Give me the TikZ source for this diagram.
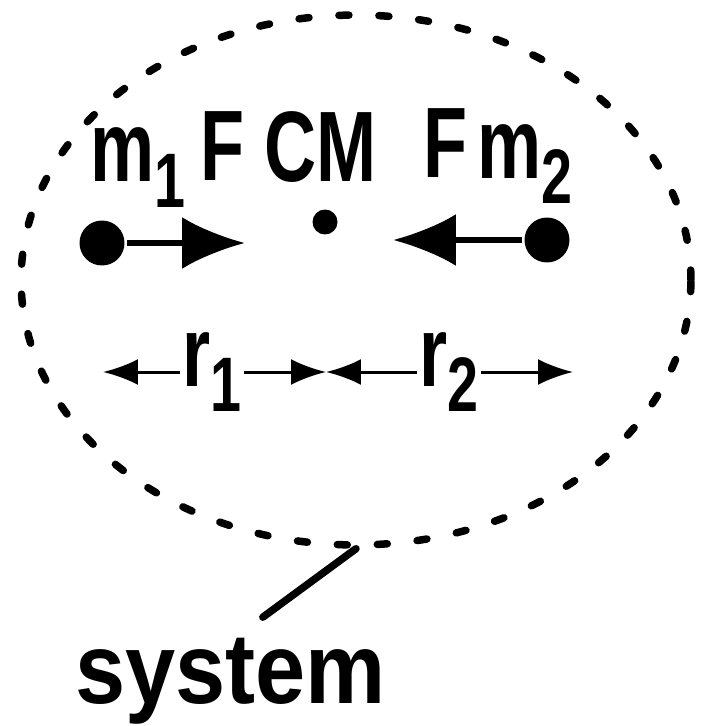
\documentclass[tikz,border=0pt]{standalone}
\usepackage{fontspec}
\setmainfont{Liberation Sans}
\usepackage{graphicx}
\usetikzlibrary{arrows.meta,shapes.geometric,calc}
\tikzset{
  every picture/.style={line width=0.1cm},
  lbl/.style={inner sep=0pt, font=\fontsize{57}{60}\selectfont\bfseries},
  mass/.style={circle, fill=black, inner sep=0pt, minimum size=#1},
  mass/.default=0.9cm,
  force/.style={-{Latex[length=1.26cm, width=1.04cm]}, line width=0.12cm},
  dimline/.style={-{Latex[length=0.7cm, width=0.52cm]}, line width=0.06cm},
  boundary/.style={draw, ellipse, dash pattern=on 0.2cm off 0.6cm, line width=0.15cm,
    line cap=round, inner sep=0pt, minimum width=13.4cm, minimum height=10.6cm},
  leader/.style={line width=0.15cm, line cap=round},
}
\newcommand{\squeeze}[1]{\scalebox{0.72}[1]{#1}}
\newcommand{\lowsub}[1]{\raisebox{-0.25em}{\fontsize{44}{44}\selectfont #1}}

\begin{document}
\begin{tikzpicture}[x=0.02cm, y=-0.02cm]
  \useasboundingbox (0,0) rectangle (701,726);
  \node[boundary] (sys) at (356,280) {};

  % labels over the masses
  \node[lbl, anchor=base west] (m1) at (88,182) {\squeeze{m\lowsub{1}}};
  \node[lbl, anchor=base] (f1) at (223,180) {\squeeze{F}};
  \node[lbl, anchor=base] (cm) at (321,182) {\squeeze{CM}};
  \node[lbl, anchor=base] (f2) at (446,177) {\squeeze{F}};
  \node[lbl, anchor=base west] (m2) at (475,178) {\squeeze{m\lowsub{2}}};

  % masses and forces
  \node[mass] (lm) at (102,243) {};
  \node[mass] (rm) at (547,240) {};
  \node[mass=0.5cm] (c) at (325,222) {};
  \coordinate (lf) at (245,243);
  \coordinate (rf) at (393,240);
  \draw[force] (lm) -- (lf);
  \draw[force] (rm) -- (rf);

  % distances to CM
  \coordinate (dl) at (103,372);
  \coordinate (dc) at (326,372);
  \coordinate (dr) at (573,372);
  \node[lbl] (r1) at (212,372) {\squeeze{r\lowsub{1}}};
  \node[lbl] (r2) at (449,372) {\squeeze{r\lowsub{2}}};
  \draw[dimline] (r1) -- (dl);
  \draw[dimline] (r1) -- (dc);
  \draw[dimline] (r2) -- (dc);
  \draw[dimline] (r2) -- (dr);

  \node[lbl, anchor=base west] (sysl) at (73,703) {\scalebox{0.9}[1]{system}};
  \draw[leader] (sys.south) -- ($(sysl.north)+(32,-18)$);
\end{tikzpicture}
\end{document}
